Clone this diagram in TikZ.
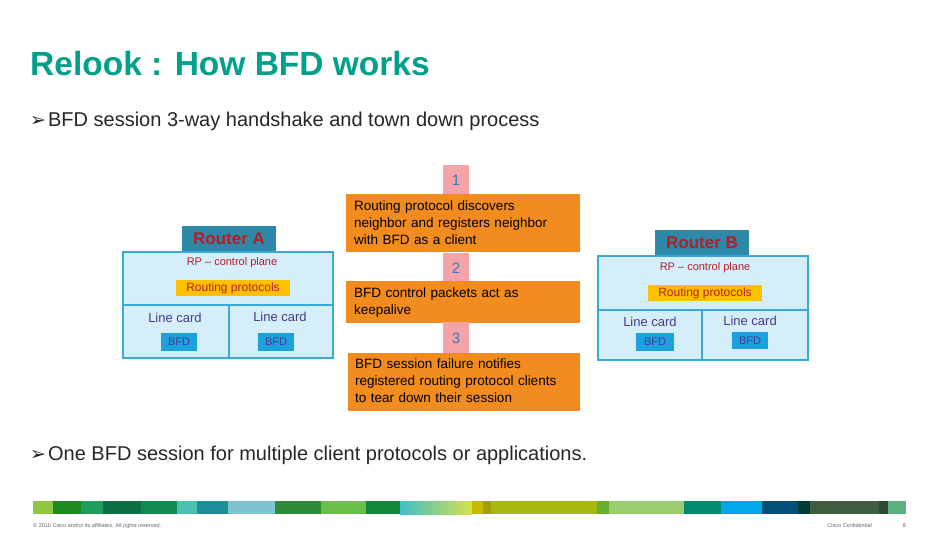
\documentclass[tikz,border=0pt]{standalone}
\usepackage{fontspec}
\setmainfont{Liberation Sans}
\newfontfamily\dejavu{DejaVu Sans}
\begin{document}
\begin{tikzpicture}[x=1pt,y=-1pt,
 orange/.style={fill=orbox,draw=none,text width=#1,align=left,inner sep=0pt,font=\fontsize{13.5}{16.7}\selectfont},
 rtr/.style={draw=rblue,line width=1.5pt,fill=rfill},
 hdr/.style={text=rred,font=\bfseries\fontsize{17}{17}\selectfont},
 yel/.style={text=rred,font=\fontsize{12}{12}\selectfont},
 bfd/.style={text=rpurple,font=\fontsize{11}{11}\selectfont},
 lc/.style={text=rpurple,font=\fontsize{13}{13}\selectfont},
 rp/.style={text=rred,font=\fontsize{11}{11}\selectfont},
 num/.style={text=numblue,font=\fontsize{15}{15}\selectfont},
 bullet/.style={anchor=west,font=\fontsize{20}{20}\selectfont,text=black!85,inner sep=0pt}]
\definecolor{orbox}{HTML}{F28C1E}\definecolor{pinkbox}{HTML}{F4A3A8}
\definecolor{numblue}{HTML}{3A78C0}\definecolor{rblue}{HTML}{3CA8D8}
\definecolor{rfill}{HTML}{D4EEFA}\definecolor{hdrblue}{HTML}{2E88A8}
\definecolor{rred}{HTML}{B02028}\definecolor{yelbox}{HTML}{FFC000}
\definecolor{bfdblue}{HTML}{1BA0E0}\definecolor{rpurple}{HTML}{4A3A8A}
\definecolor{ttl}{HTML}{00A08A}
\useasboundingbox (0,0) rectangle (936,540);
\fill[white] (0,0) rectangle (936,540);
\node[anchor=west,text=ttl,font=\bfseries\fontsize{33.5}{34}\selectfont,inner sep=0pt] (title) at (30,64) {Relook : How BFD works};
\node[bullet] (b1) at (30,121) {{\dejavu\fontsize{19}{19}\selectfont ➢}\hspace{2pt}BFD session 3-way handshake and town down process};
\node[bullet] (b2) at (30,455) {{\dejavu\fontsize{19}{19}\selectfont ➢}\hspace{2pt}One BFD session for multiple client protocols or applications.};
% Router A
\fill[hdrblue] (182,226) rectangle (276,252);
\node[hdr] (ha) at (229,239) {Router A};
\draw[rtr] (123,252) rectangle (333,358);
\draw[rblue,line width=1.2pt] (123,305) -- (333,305) (229,305) -- (229,358);
\node[rp] (rpa) at (232,263) {RP -- control plane};
\fill[yelbox] (176,280) rectangle (290,296);
\node[yel] (ya) at (233,288) {Routing protocols};
\node[lc] (la1) at (175,318) {Line card};
\node[lc] (la2) at (280,317) {Line card};
\fill[bfdblue] (161,333) rectangle (197,351); \node[bfd] (ba1) at (179,342) {BFD};
\fill[bfdblue] (258,333) rectangle (294,351); \node[bfd] (ba2) at (276,342) {BFD};
% Router B
\fill[hdrblue] (655,230) rectangle (749,256);
\node[hdr] (hb) at (702,243) {Router B};
\draw[rtr] (598,256) rectangle (808,360);
\draw[rblue,line width=1.2pt] (598,310) -- (808,310) (702,310) -- (702,360);
\node[rp] (rpb) at (705,268) {RP -- control plane};
\fill[yelbox] (648,285) rectangle (762,301);
\node[yel] (yb) at (705,293) {Routing protocols};
\node[lc] (lb1) at (650,322) {Line card};
\node[lc] (lb2) at (750,321) {Line card};
\fill[bfdblue] (636,333) rectangle (674,351); \node[bfd] (bb1) at (655,342) {BFD};
\fill[bfdblue] (732,332) rectangle (768,349); \node[bfd] (bb2) at (750,341) {BFD};
% steps
\fill[pinkbox] (443,165) rectangle (469,194); \node[num] (n1) at (456,180) {1};
\fill[orbox] (346,194) rectangle (580,252);
\node[orange=224pt,anchor=north west] (s1) at (354,201) {Routing protocol discovers\\neighbor and registers neighbor\\with BFD as a client};
\fill[pinkbox] (443,253) rectangle (469,281); \node[num] (n2) at (456,268) {2};
\fill[orbox] (346,281) rectangle (580,323);
\node[orange=224pt,anchor=north west] (s2) at (354,288) {BFD control packets act as\\keepalive};
\fill[pinkbox] (443,322) rectangle (469,353); \node[num] (n3) at (456,338) {3};
\fill[orbox] (348,353) rectangle (580,411);
\node[orange=224pt,anchor=north west] (s3) at (355,359) {BFD session failure notifies\\registered routing protocol clients\\to tear down their session};
% stripe
\def\seg#1#2#3{\fill[#3] (#1,501) rectangle (#2,514);}
\definecolor{c1}{HTML}{8DC63F}\definecolor{c2}{HTML}{1F8A1F}\definecolor{c3}{HTML}{1E9E5A}
\definecolor{c4}{HTML}{0B7045}\definecolor{c5}{HTML}{128A50}\definecolor{c6}{HTML}{4BBFB0}
\definecolor{c7}{HTML}{1E8F9A}\definecolor{c8}{HTML}{7DC4D0}\definecolor{c9}{HTML}{2E8B3A}
\definecolor{c10}{HTML}{6CBF4A}\definecolor{c11}{HTML}{10873A}\definecolor{c12}{HTML}{C8B800}
\definecolor{c13}{HTML}{A0A000}\definecolor{c14}{HTML}{A8B813}\definecolor{c15}{HTML}{6AB030}
\definecolor{c16}{HTML}{9CCC70}\definecolor{c17}{HTML}{008A6E}\definecolor{c18}{HTML}{00A8E8}
\definecolor{c19}{HTML}{005078}\definecolor{c20}{HTML}{003A3A}\definecolor{c21}{HTML}{3D5C40}
\definecolor{c22}{HTML}{2E4A34}\definecolor{c23}{HTML}{5AB080}
\definecolor{g1}{HTML}{40C0C8}\definecolor{g2}{HTML}{D8E04A}
\seg{33}{53}{c1}\seg{53}{81}{c2}\seg{81}{103}{c3}\seg{103}{141}{c4}\seg{141}{177}{c5}
\seg{177}{197}{c6}\seg{197}{228}{c7}\seg{228}{275}{c8}\seg{275}{321}{c9}\seg{321}{366}{c10}
\seg{366}{400}{c11}
\shade[left color=g1,right color=g2] (400,501) rectangle (472,514);
\seg{472}{483}{c12}\seg{483}{491}{c13}\seg{491}{597}{c14}\seg{597}{609}{c15}\seg{609}{684}{c16}
\seg{684}{721}{c17}\seg{721}{762}{c18}\seg{762}{798}{c19}\seg{798}{810}{c20}\seg{810}{879}{c21}
\seg{879}{888}{c22}\seg{888}{906}{c23}
\node[anchor=west,font=\fontsize{5.5}{5.5}\selectfont,text=black!60,inner sep=0pt] (cp) at (33,526) {© 2010 Cisco and/or its affiliates. All rights reserved.};
\node[anchor=east,font=\fontsize{5.5}{5.5}\selectfont,text=black!60,inner sep=0pt] (cc) at (872,526) {Cisco Confidential};
\node[anchor=east,font=\fontsize{5.5}{5.5}\selectfont,text=black!60,inner sep=0pt] (pg) at (906,526) {8};
\end{tikzpicture}
\end{document}
